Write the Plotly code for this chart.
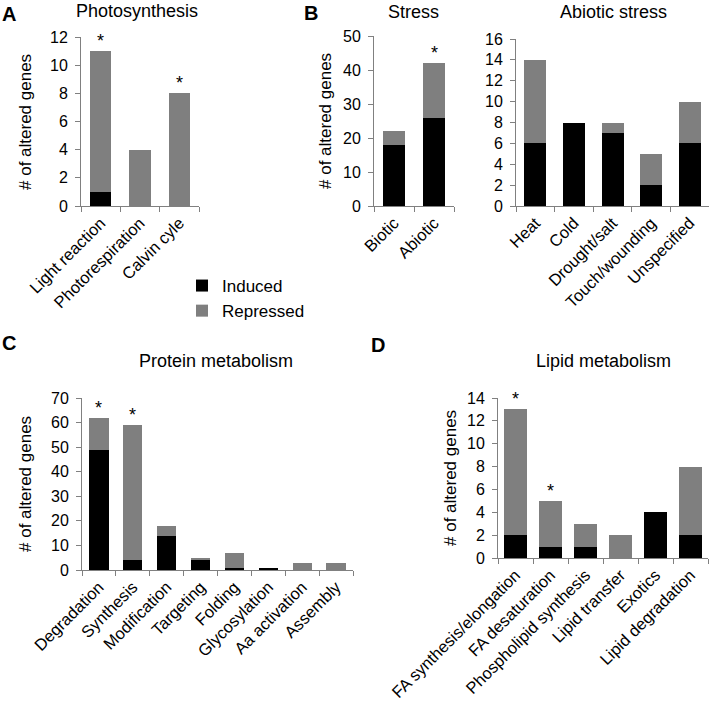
import plotly.graph_objects as go

# ---------------- data ----------------
photo_cats = ["Light reaction", "Photorespiration", "Calvin cyle"]
photo_induced = [1, 0, 0]
photo_repressed = [10, 4, 8]
photo_star = ["Light reaction", "Calvin cyle"]

stress_cats = ["Biotic", "Abiotic"]
stress_induced = [18, 26]
stress_repressed = [4, 16]
stress_star = ["Abiotic"]

abiotic_cats = ["Heat", "Cold", "Drought/salt", "Touch/wounding", "Unspecified"]
abiotic_induced = [6, 8, 7, 2, 6]
abiotic_repressed = [8, 0, 1, 3, 4]
abiotic_star = []

protein_cats = ["Degradation", "Synthesis", "Modification", "Targeting", "Folding",
                "Glycosylation", "Aa activation", "Assembly"]
protein_induced = [49, 4, 14, 4, 1, 1, 0, 0]
protein_repressed = [13, 55, 4, 1, 6, 0, 3, 3]
protein_star = ["Degradation", "Synthesis"]

lipid_cats = ["FA synthesis/elongation", "FA desaturation", "Phospholipid synthesis",
              "Lipid transfer", "Exotics", "Lipid degradation"]
lipid_induced = [2, 1, 1, 0, 4, 2]
lipid_repressed = [11, 4, 2, 2, 0, 6]
lipid_star = ["FA synthesis/elongation", "FA desaturation"]

series_names = ["Induced", "Repressed"]
series_colors = ["#000000", "#7f7f7f"]

W, H = 711, 710
FONT = "Liberation Sans, Arial, sans-serif"


def px_x(v):
    return v / W


def px_y(v):
    return 1 - v / H


panels = [
    # cats, induced, repressed, stars, x-domain px, y-domain px (top,bottom), ymax, dtick, barwidth
    (photo_cats, photo_induced, photo_repressed, photo_star, (81, 199), (37, 206), 12, 2, 0.55),
    (stress_cats, stress_induced, stress_repressed, stress_star, (374, 454), (36, 206), 50, 10, 0.57),
    (abiotic_cats, abiotic_induced, abiotic_repressed, abiotic_star, (516, 709), (39, 206), 16, 2, 0.57),
    (protein_cats, protein_induced, protein_repressed, protein_star, (82, 353), (398, 570), 70, 10, 0.57),
    (lipid_cats, lipid_induced, lipid_repressed, lipid_star, (498, 708), (398, 558), 14, 2, 0.63),
]

fig = go.Figure()
layout = {}
annotations = []

for i, (cats, ind, rep, stars, xd, yd, ymax, dtick, bw) in enumerate(panels):
    n = "" if i == 0 else str(i + 1)
    xa, ya = "x" + n, "y" + n
    for name, vals, col in zip(series_names, [ind, rep], series_colors):
        fig.add_trace(go.Bar(
            x=cats, y=vals, name=name, marker=dict(color=col, line=dict(width=0)),
            width=bw, xaxis=xa, yaxis=ya, showlegend=(i == 0), legendgroup=name,
        ))
    layout["xaxis" + n] = dict(
        domain=[px_x(xd[0]), px_x(xd[1])], anchor=ya, type="category",
        showline=True, linecolor="#808080", linewidth=1,
        ticks="outside", tickson="boundaries", ticklen=5, tickcolor="#808080",
        tickangle=-45, tickfont=dict(size=16.5, color="#000", family=FONT),
        showgrid=False, zeroline=False, automargin=False, fixedrange=True,
    )
    layout["yaxis" + n] = dict(
        domain=[px_y(yd[1]), px_y(yd[0])], anchor=xa, range=[0, ymax], dtick=dtick,
        showline=True, linecolor="#808080", linewidth=1,
        ticks="outside", ticklen=5, tickcolor="#808080", ticklabelstandoff=4,
        tickfont=dict(size=16, color="#000", family=FONT),
        showgrid=False, zeroline=False, automargin=False, fixedrange=True,
    )
    totals = {c: a + b for c, a, b in zip(cats, ind, rep)}
    for s in stars:
        annotations.append(dict(
            x=s, y=totals[s], xref=xa, yref=ya, text="*", showarrow=False,
            yanchor="bottom", yshift=-2, font=dict(size=18, color="#000", family=FONT),
        ))

# panel titles
titles = [
    ("Photosynthesis", 137, 11),
    ("Stress", 413, 12),
    ("Abiotic stress", 613, 12),
    ("Protein metabolism", 216, 361),
    ("Lipid metabolism", 603, 361),
]
for t, x, y in titles:
    annotations.append(dict(
        x=px_x(x), y=px_y(y), xref="paper", yref="paper", text=t, showarrow=False,
        xanchor="center", yanchor="middle", font=dict(size=18, color="#000", family=FONT),
    ))

# panel letters
letters = [("A", 9, 14), ("B", 311, 13), ("C", 9, 343), ("D", 378, 345)]
for t, x, y in letters:
    annotations.append(dict(
        x=px_x(x), y=px_y(y), xref="paper", yref="paper", text="<b>%s</b>" % t,
        showarrow=False, xanchor="center", yanchor="middle",
        font=dict(size=20, color="#000", family=FONT),
    ))

# y-axis titles
ytitles = [(25, 122), (325, 121), (25, 484), (450, 478)]
for x, y in ytitles:
    annotations.append(dict(
        x=px_x(x), y=px_y(y), xref="paper", yref="paper", text="# of altered genes",
        showarrow=False, textangle=-90, xanchor="center", yanchor="middle",
        font=dict(size=17, color="#000", family=FONT),
    ))

fig.update_layout(
    template="none",
    width=W, height=H,
    margin=dict(l=0, r=0, t=0, b=0),
    paper_bgcolor="white", plot_bgcolor="white",
    barmode="stack",
    font=dict(family=FONT, color="#000"),
    showlegend=True,
    legend=dict(
        x=px_x(182), y=px_y(268), xanchor="left", yanchor="top",
        font=dict(size=17, color="#000", family=FONT),
        bgcolor="rgba(0,0,0,0)", traceorder="normal", itemwidth=30,
    ),
    annotations=annotations,
    **layout,
)

fig.write_html(
    "out.html",
    config={"displayModeBar": False},
    post_script="document.body.style.margin='0';document.body.style.overflow='hidden';",
)
